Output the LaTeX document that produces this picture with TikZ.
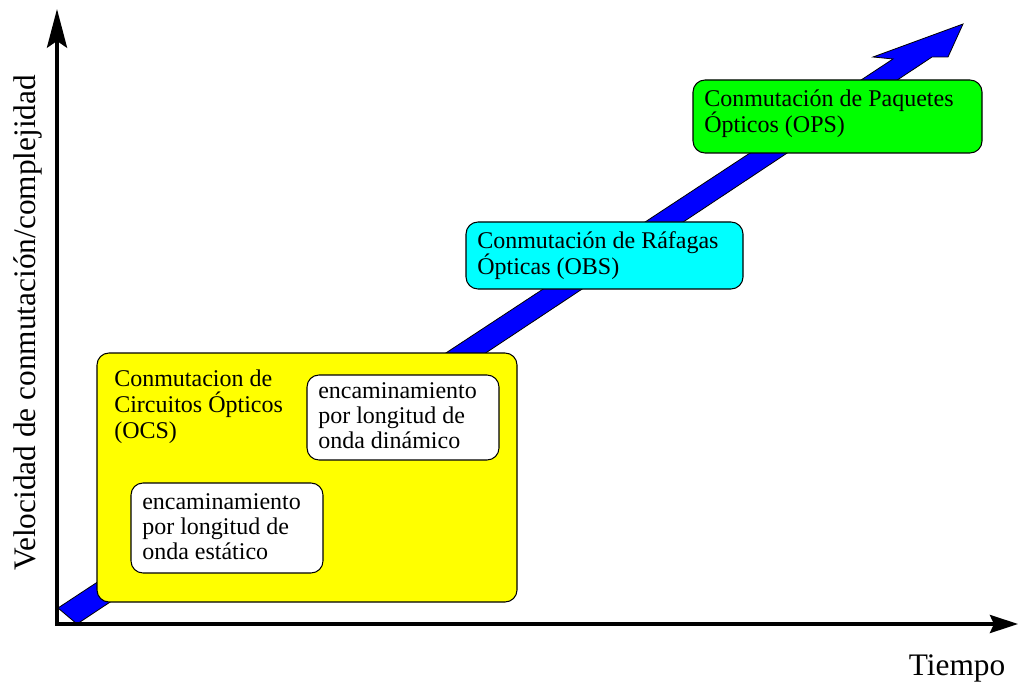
\documentclass[tikz,border=0pt]{standalone}
\usepackage{fontspec}
\setmainfont{Liberation Serif}
\usetikzlibrary{arrows.meta}
\definecolor{figblue}{RGB}{0,0,255}
\definecolor{figyellow}{RGB}{255,255,0}
\definecolor{figcyan}{RGB}{0,255,255}
\definecolor{figgreen}{RGB}{0,255,0}
\begin{document}
\begin{tikzpicture}[x=0.75pt,y=-0.75pt,
  panel/.style={draw=black, line width=0.8pt, rounded corners=9pt},
  boxtext/.style={anchor=base west, inner sep=0pt, align=left,
    font=\fontsize{18}{19.5}\selectfont},
  innertext/.style={boxtext, font=\fontsize{18}{18.5}\selectfont},
  axislabel/.style={inner sep=0pt, font=\fontsize{23.5}{26}\selectfont}]
\useasboundingbox (0,0) rectangle (1020,684);

% rising progress arrow
\draw[fill=figblue, line width=0.6pt, line join=miter]
  (58,608) -- (893,59) -- (873,57) -- (963,24) -- (948,57)
  -- (932,57) -- (77,624) -- cycle;

% switching technology panels
\draw[panel, fill=figyellow] (97,353) rectangle (517,602);
\draw[panel, fill=white] (307,375) rectangle (499,460);
\draw[panel, fill=white] (131,483) rectangle (323,573);
\draw[panel, fill=figcyan] (466,222) rectangle (743,289);
\draw[panel, fill=figgreen] (693,80) rectangle (982,153);

% panel texts (anchored at the baseline of the last line)
\node[boxtext] (ocs) at (114,438) {Conmutacion de\\Circuitos Ópticos\\(OCS)};
\node[innertext] (dyn) at (318,448) {encaminamiento\\por longitud de\\onda dinámico};
\node[innertext] (sta) at (142,559) {encaminamiento\\por longitud de\\onda estático};
\node[boxtext] (obs) at (477,274) {Conmutación de Ráfagas\\Ópticas (OBS)};
\node[boxtext] (ops) at (704,133) {Conmutación de Paquetes\\Ópticos (OPS)};

% axes
\coordinate (ytip) at (57,9);
\coordinate (origin) at (57,624);
\coordinate (xtip) at (1018,624);
\draw[line width=3pt, line join=miter,
  {Stealth[length=29pt,width=15pt,inset=5pt]}-{Stealth[length=21pt,width=13.5pt,inset=3pt]}]
  (ytip) -- (origin) -- (xtip);

\node[axislabel, rotate=90, anchor=base] (ylab) at (35,323) {Velocidad de conmutación/complejidad};
\node[axislabel, anchor=base] (xlab) at (957,675) {Tiempo};
\end{tikzpicture}
\end{document}
